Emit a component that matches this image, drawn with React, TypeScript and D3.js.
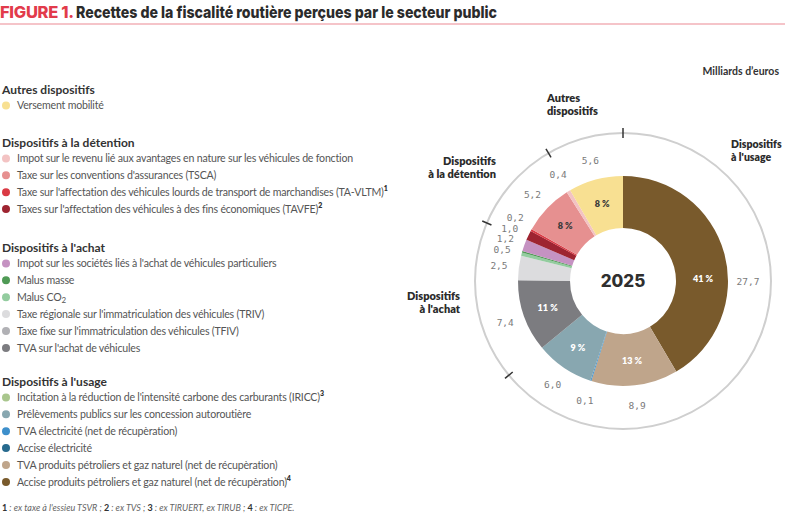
import React, { useMemo } from "react";
import * as d3 from "d3";

// ---------- DATA ----------
const groupNames = [
  "Autres dispositifs",
  "Dispositifs à la détention",
  "Dispositifs à l'achat",
  "Dispositifs à l'usage",
];

// legend items (legend order); group index refers to groupNames
const itemNames = [
  "Versement mobilité",
  "Impot sur le revenu lié aux avantages en nature sur les véhicules de fonction",
  "Taxe sur les conventions d'assurances (TSCA)",
  "Taxe sur l'affectation des véhicules lourds de transport de marchandises (TA-VLTM)",
  "Taxes sur l'affectation des véhicules à des fins économiques (TAVFE)",
  "Impot sur les sociétés liés à l'achat de véhicules particuliers",
  "Malus masse",
  "Malus CO",
  "Taxe régionale sur l'immatriculation des véhicules (TRIV)",
  "Taxe fixe sur l'immatriculation des véhicules (TFIV)",
  "TVA sur l'achat de véhicules",
  "Incitation à la réduction de l'intensité carbone des carburants (IRICC)",
  "Prélèvements publics sur les concession autoroutière",
  "TVA électricité (net de récupèration)",
  "Accise électricité",
  "TVA produits pétroliers et gaz naturel (net de récupèration)",
  "Accise produits pétroliers et gaz naturel (net de récupèration)",
];
const itemSup = ["", "", "", "1", "2", "", "", "", "", "", "", "3", "", "", "", "", "4"];
const itemSub = ["", "", "", "", "", "", "", "2", "", "", "", "", "", "", "", "", ""];
const itemGroup = [0, 1, 1, 1, 1, 2, 2, 2, 2, 2, 2, 3, 3, 3, 3, 3, 3];
// Milliards d'euros, 2025
const itemValues = [5.6, 0.4, 5.2, 0.2, 1.0, 1.2, 0.15, 0.35, 2.5, 0, 7.4, 0, 6.0, 0.1, 0, 8.9, 27.7];
const itemColors = [
  "#f8e092", "#f3c3c3", "#e69090", "#da3a44", "#9e2431",
  "#c592c2", "#4f9a55", "#93cc9f", "#dcdcde", "#b1b1b5", "#7c7c80",
  "#a9c68d", "#88a7b0", "#3d8fcb", "#276a8e", "#bfa58b", "#795a2c",
];
// value labels shown round the ring ("" = none); one merged label for the two malus
const itemValueLabels = ["5,6", "0,4", "5,2", "0,2", "1,0", "1,2", "0,5", "", "2,5", "", "7,4", "", "6,0", "0,1", "", "8,9", "27,7"];
const itemPctLabels = ["8 %", "", "8 %", "", "", "", "", "", "", "", "11 %", "", "9 %", "", "", "13 %", "41 %"];

const footnote = [
  { b: "1", t: " : ex taxe à l'essieu TSVR ; " },
  { b: "2", t: " : ex TVS ;  " },
  { b: "3", t: " : ex TIRUERT, ex TIRUB ; " },
  { b: "4", t: " : ex TICPE." },
];

// ---------- LAYOUT ----------
const W = 785, H = 518;
const CX = 623, CY = 281;
const R_IN = 53, R_OUT = 105, R_RING = 148, R_VAL = 125, R_PCT = 80;
const FONT = "Lato, 'Noto Sans', sans-serif";
const MONO = "'DejaVu Sans Mono', monospace";
const headerY = [89, 142, 247, 381];
const ROW = 16.9;

export default function App() {
  const slices = useMemo(() => {
    const idx = d3.range(itemNames.length).reverse();
    const pie = d3.pie<number>().sort(null).value((i) => itemValues[i]).startAngle(0).endAngle(2 * Math.PI);
    return pie(idx);
  }, []);

  const arc = d3.arc<any>().innerRadius(R_IN).outerRadius(R_OUT);

  // group boundaries
  const boundaries: number[] = [];
  slices.forEach((s, k) => {
    const next = slices[(k + 1) % slices.length];
    if (itemGroup[s.data] !== itemGroup[next.data]) boundaries.push(s.endAngle);
  });

  // value labels with simple vertical relaxation on left side
  const angleOverride: Record<number, number> = { 16: Math.PI / 2 };
  const vals = slices
    .filter((s) => itemValueLabels[s.data] !== "")
    .map((s) => {
      let a = (s.startAngle + s.endAngle) / 2;
      if (s.data === 6) {
        const other = slices.find((o) => o.data === 7)!;
        a = (Math.min(s.startAngle, other.startAngle) + Math.max(s.endAngle, other.endAngle)) / 2;
      }
      if (angleOverride[s.data] !== undefined) a = angleOverride[s.data];
      return { i: s.data, a, x: R_VAL * Math.sin(a), y: -R_VAL * Math.cos(a) };
    });
  const left = vals.filter((v) => v.x < 0 && v.y < 20 && v.y > -100).sort((p, q) => p.y - q.y);
  for (let it = 0; it < 50; it++) {
    for (let k = 0; k < left.length - 1; k++) {
      const gap = left[k + 1].y - left[k].y;
      if (gap < 10.5) {
        const d = (10.5 - gap) / 2;
        left[k].y -= d;
        left[k + 1].y += d;
      }
    }
  }
  left.forEach((v) => (v.x = -Math.sqrt(R_VAL * R_VAL - v.y * v.y)));

  const pctOverride: Record<number, number> = { 16: (88 * Math.PI) / 180 };

  // legend rows
  const legendRows: { i: number; y: number }[] = [];
  groupNames.forEach((_, g) => {
    let n = 0;
    itemNames.forEach((_, i) => {
      if (itemGroup[i] === g) {
        n++;
        legendRows.push({ i, y: headerY[g] + ROW * n - 0.5 });
      }
    });
  });

  return (
    <svg width={W} height={H} style={{ position: "absolute", left: 0, top: 0, background: "#fff" }} fontFamily={FONT}>
      {/* title */}
      <text x={0} y={18} fontSize={16.5} fontWeight={800} fontFamily="Inter, Lato, sans-serif" letterSpacing={-0.3} fill="#e23b4b">
        FIGURE 1.
      </text>
      <text
        x={76}
        y={18}
        fontSize={16.5}
        fontWeight={800}
        fontFamily="Inter, Lato, sans-serif"
        fill="#2b2b2b"
        textLength={421}
        lengthAdjust="spacingAndGlyphs"
      >
        Recettes de la fiscalité routière perçues par le secteur public
      </text>
      <line x1={0} x2={W} y1={24} y2={24} stroke="#eb8a93" strokeWidth={1.2} />

      <text x={779} y={71} textAnchor="end" fontSize={10.5} fontWeight={700} fill="#333" dominantBaseline="central">
        Milliards d’euros
      </text>

      {/* legend */}
      {groupNames.map((g, k) => (
        <text key={g} x={2} y={headerY[k]} fontSize={12} fontWeight={700} fill="#333" dominantBaseline="central">
          {g}
        </text>
      ))}
      {legendRows.map(({ i, y }) => (
        <g key={i}>
          <circle cx={6} cy={y} r={4} fill={itemColors[i]} />
          <text x={17} y={y} fontSize={10.6} letterSpacing={-0.2} fill="#555" dominantBaseline="central">
            {itemNames[i]}
            {itemSub[i] && (
              <tspan fontSize={8} dy={3}>
                {itemSub[i]}
              </tspan>
            )}
            {itemSup[i] && (
              <tspan fontSize={7} fontWeight={800} dy={-4} fill="#333">
                {itemSup[i]}
              </tspan>
            )}
          </text>
        </g>
      ))}
      <text x={2} y={507} fontSize={9} fill="#666" fontStyle="italic" dominantBaseline="central">
        {footnote.map((f) => (
          <React.Fragment key={f.b}>
            <tspan fontWeight={700} fontStyle="normal" fill="#333">{f.b}</tspan>
            <tspan>{f.t}</tspan>
          </React.Fragment>
        ))}
      </text>

      {/* donut */}
      <g transform={`translate(${CX},${CY})`}>
        <circle r={R_RING} fill="none" stroke="#cfcfcf" strokeWidth={2} />
        {boundaries.map((a, k) => (
          <line
            key={k}
            x1={(R_RING - 5) * Math.sin(a)}
            y1={-(R_RING - 5) * Math.cos(a)}
            x2={(R_RING + 5) * Math.sin(a)}
            y2={-(R_RING + 5) * Math.cos(a)}
            stroke="#333"
            strokeWidth={1.5}
          />
        ))}
        {slices.map((s) => (
          <path key={s.data} d={arc(s) as string} fill={itemColors[s.data]} />
        ))}
        {slices
          .filter((s) => itemPctLabels[s.data] !== "")
          .map((s) => {
            let a = (s.startAngle + s.endAngle) / 2;
            if (pctOverride[s.data] !== undefined) a = pctOverride[s.data];
            const dark = itemGroup[s.data] <= 1;
            return (
              <text
                key={s.data}
                x={R_PCT * Math.sin(a)}
                y={-R_PCT * Math.cos(a)}
                textAnchor="middle"
                dominantBaseline="central"
                fontSize={9}
                fontWeight={800}
                fill={dark ? "#3a3a3a" : "#fff"}
              >
                {itemPctLabels[s.data]}
              </text>
            );
          })}
        {vals.map((v) => (
          <text
            key={v.i}
            x={v.x}
            y={v.y}
            textAnchor="middle"
            dominantBaseline="central"
            fontSize={9.5}
            fontFamily={MONO}
            fill="#7a7a7a"
          >
            {itemValueLabels[v.i]}
          </text>
        ))}
        <text textAnchor="middle" dominantBaseline="central" fontSize={17} fontWeight={800} fill="#2f2f2f" fontFamily="Inter, Lato, sans-serif">
          2025
        </text>
      </g>

      {/* group labels round the ring */}
      <text fontSize={11} fontWeight={800} fill="#2b2b2b">
        <tspan x={547} y={102}>Autres</tspan>
        <tspan x={547} y={115}>dispositifs</tspan>
      </text>
      <text fontSize={11} fontWeight={800} fill="#2b2b2b" textAnchor="end">
        <tspan x={496} y={165}>Dispositifs</tspan>
        <tspan x={496} y={178}>à la détention</tspan>
      </text>
      <text fontSize={11} fontWeight={800} fill="#2b2b2b" textAnchor="end">
        <tspan x={460} y={300}>Dispositifs</tspan>
        <tspan x={460} y={313}>à l'achat</tspan>
      </text>
      <text fontSize={10.5} fontWeight={800} fill="#2b2b2b">
        <tspan x={731} y={148}>Dispositifs</tspan>
        <tspan x={731} y={161}>à l'usage</tspan>
      </text>
    </svg>
  );
}
